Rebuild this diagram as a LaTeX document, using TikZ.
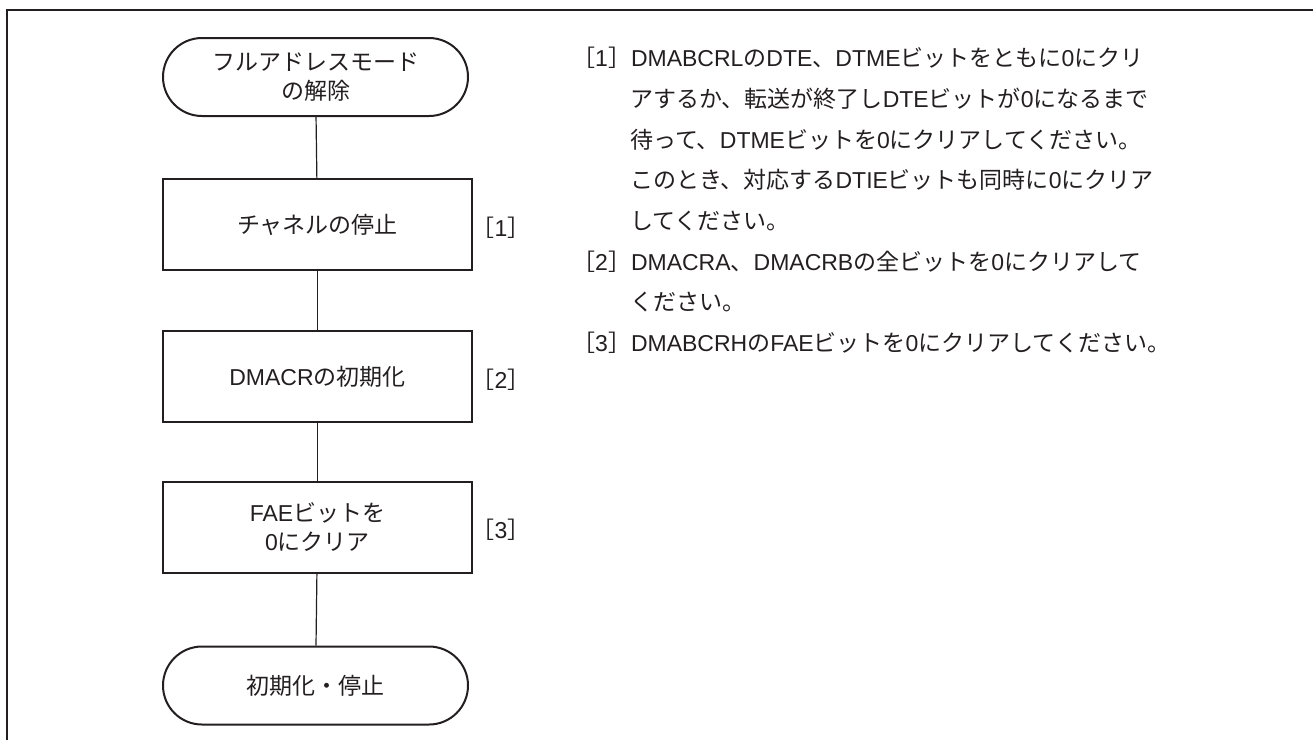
\documentclass[tikz,border=0pt]{standalone}
\usepackage{fontspec}
\setmainfont{Noto Sans CJK JP}
\newfontfamily\latinfont{Liberation Sans}
\newcommand{\lat}[1]{{\latinfont #1}}
\usepackage{tikz}
\definecolor{inkgray}{HTML}{231F20}

\begin{document}
\begin{tikzpicture}[x=1pt, y=-1pt,
  every node/.style={font=\fontsize{23}{29}\selectfont, text=inkgray},
  procbox/.style={draw=inkgray, line width=2pt, minimum width=309pt,
                  minimum height=91pt, align=center, inner sep=0pt},
  termbox/.style={draw=inkgray, line width=2pt, minimum width=305pt,
                  minimum height=78pt, rounded corners=39pt, align=center, inner sep=0pt},
  link/.style={draw=inkgray, line width=1.2pt},
  noteline/.style={anchor=west, inner sep=0pt}]
  \useasboundingbox (0,0) rectangle (1313,740);

  %% Open frame: top and left edges only
  \draw[inkgray, line width=2.5pt] (7,740) -- (7,10) -- (1313,10);

  %% Flowchart, column centred at x = 317.5
  \node[termbox] (release) at (315.5,77) {フルアドレスモード\\の解除};
  \node[procbox] (chstop)  at (317.5,224.5) {チャネルの停止};
  \node[procbox] (crinit)  at (317.5,376.5) {\lat{DMACR}の初期化};
  \node[procbox] (faeclr)  at (317.5,527.5) {\lat{FAE}ビットを\\\lat{0}にクリア};
  \node[termbox] (done)    at (315.5,685.5) {初期化・停止};

  \draw[link] (release) -- (chstop);
  \draw[link] (chstop) -- (crinit);
  \draw[link] (crinit) -- (faeclr);
  \draw[link] (faeclr) -- (done);

  %% Step markers beside the boxes
  \node[inner sep=0pt] (mark1) at (501,228) {［\lat{1}］};
  \node[inner sep=0pt] (mark2) at (501,380) {［\lat{2}］};
  \node[inner sep=0pt] (mark3) at (501,530) {［\lat{3}］};

  %% Notes, one node per printed line (line pitch 40.7)
  \foreach \i/\xpos/\txt in {
      0/572/{［\lat{1}］\lat{DMABCRL}の\lat{DTE}、\lat{DTME}ビットをともに\lat{0}にクリ},
      1/630/{アするか、転送が終了し\lat{DTE}ビットが\lat{0}になるまで},
      2/630/{待って、\lat{DTME}ビットを\lat{0}にクリアしてください。},
      3/630/{このとき、対応する\lat{DTIE}ビットも同時に\lat{0}にクリア},
      4/630/{してください。},
      5/572/{［\lat{2}］\lat{DMACRA}、\lat{DMACRB}の全ビットを\lat{0}にクリアして},
      6/630/{ください。},
      7/572/{［\lat{3}］\lat{DMABCRH}の\lat{FAE}ビットを\lat{0}にクリアしてください。}} {
    \node[noteline] (note\i) at (\xpos,{58+40.7*\i}) {\txt};
  }

\end{tikzpicture}
\end{document}
